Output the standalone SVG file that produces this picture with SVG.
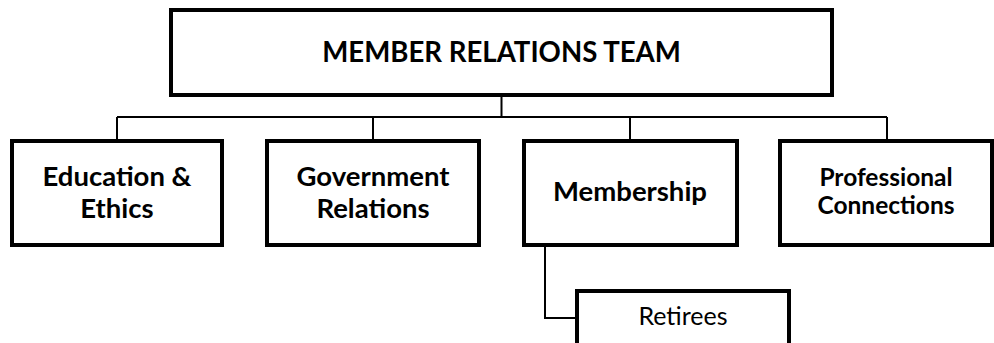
<svg xmlns="http://www.w3.org/2000/svg" width="994" height="343" viewBox="0 0 994 343">
<style>
.box{fill:#fff;stroke:#000;stroke-width:4}
.conn{fill:none;stroke:#000;stroke-width:2}
.t{font-family:Lato,"Liberation Sans",sans-serif;font-weight:bold;fill:#000;text-anchor:middle}
.r{font-family:Lato,"Liberation Sans",sans-serif;font-weight:normal;fill:#000;text-anchor:middle}
</style>
<rect width="994" height="343" fill="#fff"/>
<g id="connectors">
<path class="conn" d="M501.5 97V117M117 117H887M117 117V140M373 117V140M630 117V140M887 117V140"/>
<path class="conn" d="M545 247V318H577"/>
</g>
<g id="team">
<rect class="box" x="171" y="10" width="661" height="85"/>
<text class="t" x="501.5" y="62" font-size="27.6">MEMBER RELATIONS TEAM</text>
</g>
<g id="education">
<rect class="box" x="12" y="141" width="210" height="104"/>
<text class="t" x="117" y="186" font-size="27.5">Education &amp;</text>
<text class="t" x="117" y="218" font-size="27.5">Ethics</text>
</g>
<g id="government">
<rect class="box" x="267" y="141" width="212" height="104"/>
<text class="t" x="373" y="186" font-size="27.5">Government</text>
<text class="t" x="373" y="218" font-size="27.5">Relations</text>
</g>
<g id="membership">
<rect class="box" x="524" y="141" width="213" height="104"/>
<text class="t" x="630" y="201" font-size="27.5">Membership</text>
</g>
<g id="professional">
<rect class="box" x="780" y="141" width="212" height="104"/>
<text class="t" x="886" y="186" font-size="24.5">Professional</text>
<text class="t" x="886" y="214" font-size="24.5">Connections</text>
</g>
<g id="retirees">
<rect class="box" x="577" y="291" width="212" height="100"/>
<text class="r" x="683" y="325" font-size="25">Retirees</text>
</g>
</svg>
